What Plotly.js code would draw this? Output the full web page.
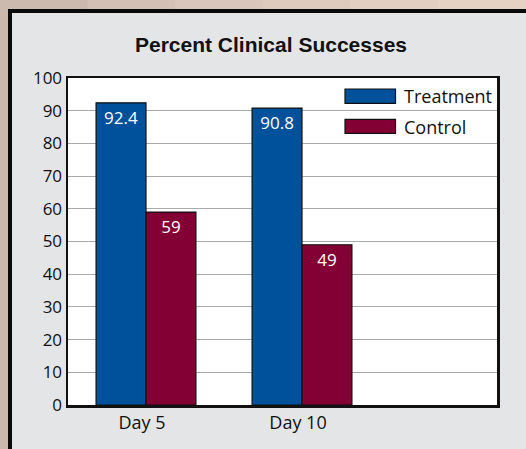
<!DOCTYPE html>
<html>
<head>
<meta charset="utf-8">
<script src="https://cdn.plot.ly/plotly-3.0.1.min.js"></script>
<style>html,body{margin:0;padding:0;background:#e4e5e7;}#chart{width:526px;height:449px;}</style>
</head>
<body>
<div id="chart"></div>
<script>
// ---- data ----
const categories = ['Day 5', 'Day 10'];
const seriesNames = ['Treatment', 'Control'];
const treatmentValues = [92.4, 90.8];
const controlValues = [59, 49];
const yTickValues = [0, 10, 20, 30, 40, 50, 60, 70, 80, 90, 100];
const chartTitle = 'Percent Clinical Successes';

// ---- layout geometry ----
const W = 526, H = 449;
const M = {l: 68, r: 29, t: 78, b: 44};
const PW = W - M.l - M.r, PH = H - M.t - M.b;
const px = x => (x - M.l) / PW;          // pixel -> paper x
const py = y => (H - M.b - y) / PH;      // pixel -> paper y

const BLUE = '#00519b', MAROON = '#830034';
const FONT = '"Open Sans", "Noto Sans", sans-serif';

const traces = [
  {type: 'bar', name: seriesNames[0], x: categories, y: treatmentValues,
   marker: {color: BLUE, line: {color: '#111', width: 1.2}},
   text: treatmentValues.map(String), textposition: 'inside', insidetextanchor: 'end',
   textfont: {color: '#fff', size: 17, family: FONT}, textangle: 0, cliponaxis: false},
  {type: 'bar', name: seriesNames[1], x: categories, y: controlValues,
   marker: {color: MAROON, line: {color: '#111', width: 1.2}},
   text: controlValues.map(String), textposition: 'inside', insidetextanchor: 'end',
   textfont: {color: '#fff', size: 17, family: FONT}, textangle: 0, cliponaxis: false}
];

const shapes = [];
// tan surround (left strip and top strip with a slight gradient)
shapes.push({type: 'rect', xref: 'paper', yref: 'paper', x0: px(0), x1: px(8), y0: py(0), y1: py(H),
  fillcolor: '#ccb9ae', line: {width: 0}, layer: 'above'});
const topCols = ['#cdbaaf', '#d4c0b5', '#dac6ba', '#dfcbbe', '#e3cfc1', '#e6d2c3'];
for (let i = 0; i < topCols.length; i++) {
  shapes.push({type: 'rect', xref: 'paper', yref: 'paper',
    x0: px(i * W / topCols.length), x1: px((i + 1) * W / topCols.length + 1),
    y0: py(0), y1: py(9), fillcolor: topCols[i], line: {width: 0}, layer: 'above'});
}
// black panel border
shapes.push({type: 'rect', xref: 'paper', yref: 'paper', x0: px(8), x1: px(12), y0: py(9), y1: py(H),
  fillcolor: '#0a0a0a', line: {width: 0}, layer: 'above'});
shapes.push({type: 'rect', xref: 'paper', yref: 'paper', x0: px(8), x1: px(W), y0: py(9), y1: py(13),
  fillcolor: '#0a0a0a', line: {width: 0}, layer: 'above'});
// custom legend swatches
shapes.push({type: 'rect', xref: 'paper', yref: 'paper', x0: px(345), x1: px(395.5), y0: py(103.3), y1: py(89),
  fillcolor: BLUE, line: {color: '#111', width: 1.2}, layer: 'above'});
shapes.push({type: 'rect', xref: 'paper', yref: 'paper', x0: px(345), x1: px(395.5), y0: py(133.3), y1: py(119.3),
  fillcolor: MAROON, line: {color: '#111', width: 1.2}, layer: 'above'});

const annotations = [
  {xref: 'paper', yref: 'paper', x: px(402), y: py(96), xanchor: 'left', yanchor: 'middle', showarrow: false,
   text: seriesNames[0], font: {family: FONT, size: 18, color: '#111'}},
  {xref: 'paper', yref: 'paper', x: px(402), y: py(127), xanchor: 'left', yanchor: 'middle', showarrow: false,
   text: seriesNames[1], font: {family: FONT, size: 18, color: '#111'}}
];

const layout = {
  width: W, height: H,
  margin: M,
  paper_bgcolor: '#e4e5e7',
  plot_bgcolor: '#ffffff',
  showlegend: false,
  barmode: 'group', bargap: 0.36, bargroupgap: 0,
  title: {text: '<b>' + chartTitle + '</b>', x: 271 / W, xref: 'container', xanchor: 'center',
          y: 1 - 45 / H, yref: 'container', yanchor: 'middle',
          font: {family: '"Liberation Sans", Arial, sans-serif', size: 21, color: '#111'}},
  xaxis: {type: 'category', categoryorder: 'array', categoryarray: categories, range: [-0.5, 2.25],
          showline: true, mirror: true, linecolor: '#111', linewidth: 2.5,
          showgrid: false, zeroline: false, ticks: '', 
          ticklabelshift: -4,
          tickfont: {family: FONT, size: 18, color: '#111'}, fixedrange: true},
  yaxis: {range: [0, 100], tickvals: yTickValues, ticktext: yTickValues.map(String),
          showline: true, mirror: true, linecolor: '#111', linewidth: 2.5,
          showgrid: true, gridcolor: '#a9a9a9', gridwidth: 1, zeroline: false,
          ticks: '',
          tickfont: {family: FONT, size: 17, color: '#111'}, fixedrange: true},
  shapes: shapes,
  annotations: annotations
};

Plotly.newPlot('chart', traces, layout, {staticPlot: true, displayModeBar: false});
</script>
</body>
</html>
